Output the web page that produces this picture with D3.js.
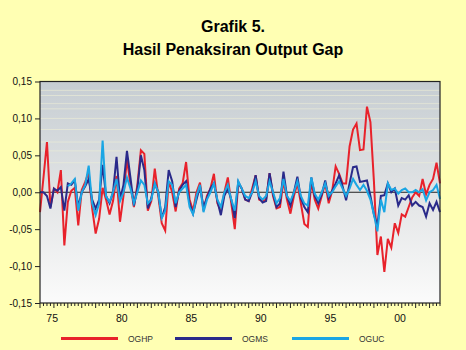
<!DOCTYPE html>
<html>
<head>
<meta charset="utf-8">
<script src="https://cdn.jsdelivr.net/npm/d3@7"></script>
<style>
  html, body { margin: 0; padding: 0; background: #ffffb3; }
  svg { display: block; font-family: Arial, "Liberation Sans", sans-serif; }
</style>
</head>
<body>
<script>
// quarterly data, 1974Q1 .. 2002Q4
var startYear = 1974;
var yearLabels = [1975, 1980, 1985, 1990, 1995, 2000];
var yTicks = [-0.15, -0.10, -0.05, 0.00, 0.05, 0.10, 0.15];
var seriesNames = ["OGHP", "OGMS", "OGUC"];

var oghp = [
  -0.027, 0.020, 0.068, -0.020,
  0.005, 0.000, 0.030, -0.072,
  -0.013, 0.002, 0.006, -0.045,
  0.003, 0.014, 0.027, -0.022,
  -0.056, -0.036, 0.006, -0.010,
  -0.030, -0.012, 0.022, -0.040,
  -0.005, 0.045, 0.010, -0.020,
  0.010, 0.057, 0.052, -0.025,
  -0.012, 0.032, -0.005, -0.042,
  -0.052, 0.015, 0.000, -0.026,
  0.005, 0.012, 0.041, -0.010,
  -0.025, 0.000, 0.013, -0.025,
  -0.005, 0.005, 0.025, -0.015,
  -0.025, 0.000, 0.020, -0.015,
  -0.050, 0.012, 0.005, -0.010,
  -0.012, 0.005, 0.023, -0.010,
  -0.012, -0.010, 0.026, -0.005,
  -0.022, -0.020, 0.015, -0.010,
  -0.029, -0.005, 0.012, -0.015,
  -0.043, -0.047, 0.015, -0.010,
  -0.022, -0.005, 0.012, -0.015,
  0.002, 0.035, 0.025, 0.012,
  0.012, 0.062, 0.085, 0.093,
  0.057, 0.058, 0.116, 0.095,
  0.015, -0.085, -0.060, -0.108,
  -0.063, -0.075, -0.042, -0.055,
  -0.030, -0.033, -0.020, -0.007,
  0.000, -0.005, 0.018, -0.003,
  0.010, 0.018, 0.040, 0.012
];

var ogms = [
  0.000, 0.000, -0.005, -0.022,
  0.005, 0.002, 0.007, -0.025,
  0.012, 0.010, 0.016, -0.020,
  0.000, 0.008, 0.018, -0.010,
  -0.022, -0.010, 0.037, -0.005,
  -0.015, 0.000, 0.048, -0.010,
  0.010, 0.056, 0.020, -0.018,
  0.005, 0.050, 0.030, -0.022,
  -0.008, 0.012, 0.000, -0.035,
  -0.020, 0.030, 0.015, -0.020,
  0.002, 0.010, 0.015, -0.015,
  -0.029, -0.010, 0.008, -0.020,
  -0.008, 0.005, 0.012, -0.012,
  -0.031, -0.005, 0.005, -0.010,
  -0.035, 0.014, 0.005, -0.010,
  -0.012, 0.000, 0.023, -0.008,
  -0.014, -0.012, 0.026, -0.002,
  -0.020, -0.015, 0.028, -0.005,
  -0.018, 0.000, 0.021, -0.008,
  -0.020, -0.027, 0.020, -0.005,
  -0.015, -0.003, 0.016, -0.008,
  0.002, 0.012, 0.023, 0.008,
  -0.011, 0.012, 0.034, 0.035,
  0.014, 0.015, 0.016, -0.005,
  -0.030, -0.045, -0.005, -0.004,
  0.012, 0.000, 0.005, -0.018,
  -0.008, -0.010, -0.004, -0.018,
  -0.013, -0.018, -0.020, -0.033,
  -0.015, -0.024, -0.013, -0.027
];

var oguc = [
  null, null, null, null,
  null, null, null, null,
  0.008, 0.012, 0.018, -0.025,
  0.000, 0.010, 0.036, -0.015,
  -0.031, -0.015, 0.070, -0.006,
  -0.013, 0.000, 0.018, -0.012,
  0.000, 0.020, 0.005, -0.015,
  0.000, 0.016, 0.010, -0.015,
  -0.010, 0.012, 0.000, -0.035,
  -0.025, 0.015, 0.010, -0.015,
  0.000, 0.005, 0.010, -0.020,
  -0.030, -0.005, 0.010, -0.027,
  -0.010, 0.000, 0.012, -0.010,
  -0.020, 0.000, 0.010, -0.010,
  -0.025, 0.015, 0.005, -0.005,
  -0.008, 0.000, 0.015, -0.005,
  -0.010, -0.005, 0.015, 0.000,
  -0.015, -0.008, 0.018, -0.005,
  -0.012, 0.000, 0.015, -0.005,
  -0.015, -0.018, 0.020, -0.002,
  -0.010, 0.000, 0.012, -0.005,
  0.000, 0.008, 0.015, 0.005,
  -0.005, 0.005, 0.018, 0.010,
  0.003, 0.010, 0.002, -0.010,
  -0.030, -0.053, -0.010, -0.027,
  0.012, 0.003, 0.005, -0.002,
  0.003, 0.005, 0.000, 0.000,
  0.003, 0.000, 0.004, -0.011,
  0.000, 0.003, 0.010, -0.009
];

var colors = ["#e8222b", "#2a2a8a", "#1aa6e4"];

var width = 466, height = 350;
var plotLeft = 40, plotRight = 440, plotTop = 81.5, plotBottom = 303;

var svg = d3.select("body").append("svg")
    .attr("width", width).attr("height", height);

var defs = svg.append("defs");
var grad = defs.append("linearGradient").attr("id", "bg")
    .attr("x1", 0).attr("y1", 0).attr("x2", 0).attr("y2", 1);
grad.append("stop").attr("offset", "0%").attr("stop-color", "#c6cdd2");
grad.append("stop").attr("offset", "55%").attr("stop-color", "#e4e6e7");
grad.append("stop").attr("offset", "100%").attr("stop-color", "#fbfbfb");

// titles
svg.append("text").attr("x", 233).attr("y", 32)
    .attr("text-anchor", "middle").attr("font-size", 16).attr("font-weight", "bold")
    .text("Grafik 5.");
svg.append("text").attr("x", 233).attr("y", 55)
    .attr("text-anchor", "middle").attr("font-size", 16).attr("font-weight", "bold")
    .text("Hasil Penaksiran Output Gap");

var n = oghp.length;
var x = d3.scaleLinear().domain([0, n - 1]).range([plotLeft, plotRight]);
var y = d3.scaleLinear().domain([-0.15, 0.15]).range([plotBottom, plotTop]);

svg.append("rect")
    .attr("x", plotLeft).attr("y", plotTop)
    .attr("width", plotRight - plotLeft).attr("height", plotBottom - plotTop)
    .attr("fill", "url(#bg)");

// faint banding in the upper part of the background
var bands = [0.138, 0.131, 0.120, 0.113, 0.100, 0.085, 0.068, 0.056, 0.040];
svg.append("g").selectAll("line").data(bands).enter()
    .append("line")
    .attr("x1", plotLeft).attr("x2", plotRight)
    .attr("y1", function(d) { return y(d); }).attr("y2", function(d) { return y(d); })
    .attr("stroke", "#efeed6").attr("stroke-opacity", 0.6).attr("stroke-width", 1);

// zero line
svg.append("line")
    .attr("x1", plotLeft).attr("x2", plotRight)
    .attr("y1", y(0)).attr("y2", y(0))
    .attr("stroke", "#222").attr("stroke-width", 1);

var line = d3.line()
    .defined(function(d) { return d != null; })
    .x(function(d, i) { return x(i); })
    .y(function(d) { return y(d); });

var data = [oghp, ogms, oguc];
svg.append("g").selectAll("path").data(data).enter()
    .append("path")
    .attr("d", line)
    .attr("fill", "none")
    .attr("stroke", function(d, i) { return colors[i]; })
    .attr("stroke-width", 2)
    .attr("stroke-linejoin", "miter");

// frame
svg.append("rect")
    .attr("x", plotLeft).attr("y", plotTop)
    .attr("width", plotRight - plotLeft).attr("height", plotBottom - plotTop)
    .attr("fill", "none").attr("stroke", "#222").attr("stroke-width", 1.2);

// y axis
var locale = d3.formatLocale({decimal: ",", thousands: ".", grouping: [3], currency: ["", ""], minus: "-"});
var fmt = locale.format(".2f");
var yAxis = d3.axisLeft(y).tickValues(yTicks).tickFormat(fmt).tickSize(5).tickPadding(3);
var gy = svg.append("g").attr("transform", "translate(" + plotLeft + ",0)").call(yAxis);
gy.select(".domain").remove();
gy.selectAll("text").attr("font-size", 10).attr("fill", "#111").attr("font-family", "Arial, 'Liberation Sans', sans-serif");
gy.selectAll("line").attr("stroke", "#222");

// x axis: quarterly ticks, yearly labels
var gx = svg.append("g");
gx.selectAll("line").data(d3.range(n)).enter()
    .append("line")
    .attr("x1", function(d) { return x(d); }).attr("x2", function(d) { return x(d); })
    .attr("y1", plotBottom)
    .attr("y2", function(d) { return plotBottom + (d % 4 === 0 ? 5 : 3); })
    .attr("stroke", "#222").attr("stroke-width", 1);
gx.selectAll("text").data(yearLabels).enter()
    .append("text")
    .attr("x", function(d) { return x((d - startYear) * 4 - 0.5); })
    .attr("y", 322)
    .attr("text-anchor", "middle")
    .attr("font-size", 10.5).attr("fill", "#111")
    .text(function(d) { return String(d).slice(2); });

// legend
var legendX = [61, 175, 292];
var lg = svg.append("g").selectAll("g").data(seriesNames).enter().append("g");
lg.append("line")
    .attr("x1", function(d, i) { return legendX[i]; })
    .attr("x2", function(d, i) { return legendX[i] + 57; })
    .attr("y1", 338.5).attr("y2", 338.5)
    .attr("stroke", function(d, i) { return colors[i]; })
    .attr("stroke-width", 3);
lg.append("text")
    .attr("x", function(d, i) { return legendX[i] + 67; })
    .attr("y", 341.5)
    .attr("font-size", 8.5).attr("fill", "#333")
    .text(function(d) { return d; });
</script>
</body>
</html>
